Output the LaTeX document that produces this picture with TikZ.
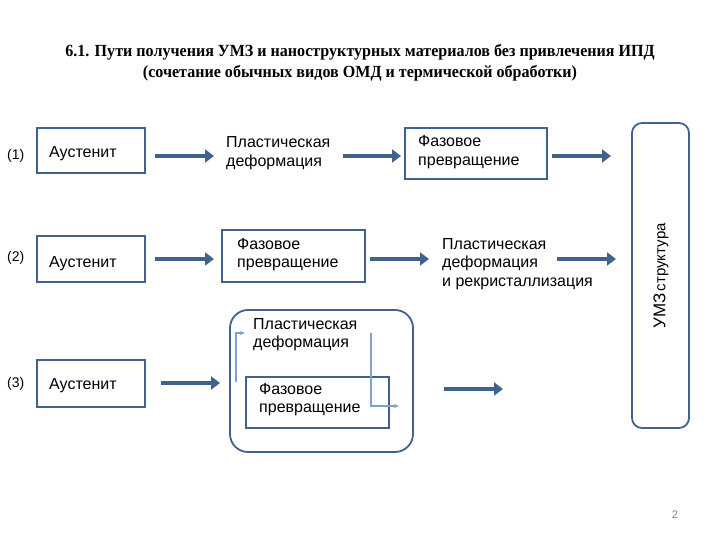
\documentclass[tikz,border=0pt]{standalone}
\usepackage{fontspec}
\setmainfont{Liberation Sans}
\newfontfamily\titlefont[FakeStretch=0.945]{Liberation Serif}
\usetikzlibrary{arrows.meta}
\definecolor{boxc}{RGB}{65,98,142}
\definecolor{thinc}{RGB}{130,162,200}
\definecolor{pgc}{RGB}{130,130,130}
\begin{document}
\begin{tikzpicture}[x=1pt,y=-1pt,
  every node/.style={inner sep=0pt},
  txt/.style={font=\fontsize{16}{18.5}\selectfont, align=left, anchor=base west},
  num/.style={font=\fontsize{14}{17}\selectfont, anchor=base west},
  boxr/.style={draw=boxc, line width=1.8pt},
  fat/.style={draw=boxc, line width=4.5pt, -{Triangle[length=9pt,width=13pt]}},
  thinarr/.style={draw=thinc, line width=1.1pt, -{Stealth[length=5pt,width=4pt]}}]
\useasboundingbox (0,0) rectangle (720,540);

% title (base anchor = baseline of the last line)
\node[font=\titlefont\bfseries\fontsize{17}{21}\selectfont, align=center, anchor=base] (title) at (360,78)
  {6.1. Пути получения УМЗ и наноструктурных материалов без привлечения ИПД\\(сочетание обычных видов ОМД и термической обработки)};

% row labels
\node[num] (n1) at (7,160) {(1)};
\node[num] (n2) at (7,261) {(2)};
\node[num] (n3) at (7,387) {(3)};

% boxes
\draw[boxr] (37,128) rectangle (145,173);
\draw[boxr] (37,236) rectangle (145,282);
\draw[boxr] (37,360) rectangle (145,407);
\draw[boxr] (405,128) rectangle (547,179);
\draw[boxr] (222,230) rectangle (365,282);
\draw[boxr, rounded corners=18pt] (230,310) rectangle (413,452);
\draw[boxr] (246,377) rectangle (389,428);
\draw[boxr, rounded corners=10pt] (632,123) rectangle (689,428);

% texts (anchor at baseline of last line)
\node[txt] (a1) at (49,158) {Аустенит};
\node[txt] (a2) at (49,267) {Аустенит};
\node[txt] (a3) at (49,389) {Аустенит};
\node[txt] (p1) at (226,166.5) {Пластическая\\деформация};
\node[txt] (f1) at (418,165.5) {Фазовое\\превращение};
\node[txt] (f2) at (237,267.5) {Фазовое\\превращение};
\node[txt] (p2) at (442,286) {Пластическая\\деформация\\и рекристаллизация};
\node[txt] (p3) at (253,347.5) {Пластическая\\деформация};
\node[txt] (f3) at (259,412.5) {Фазовое\\превращение};
\node[rotate=90] (u) at (661,276) {{\fontsize{17}{20}\selectfont УМЗ}{\fontsize{15}{18}\selectfont\,структура}};
\node[font=\fontsize{11}{13}\selectfont, text=pgc] (pg) at (675,515) {2};

% fat arrows
\coordinate (r1a) at (155,156); \coordinate (r1b) at (214,156);
\coordinate (r1c) at (343,156); \coordinate (r1d) at (401,156);
\coordinate (r1e) at (552,156); \coordinate (r1f) at (611,156);
\coordinate (r2a) at (155,259); \coordinate (r2b) at (214,259);
\coordinate (r2c) at (370,259); \coordinate (r2d) at (429,259);
\coordinate (r2e) at (557,259); \coordinate (r2f) at (616,259);
\coordinate (r3a) at (161,383); \coordinate (r3b) at (220,383);
\coordinate (r3c) at (444,389); \coordinate (r3d) at (503,389);
\draw[fat] (r1a) -- (r1b);
\draw[fat] (r1c) -- (r1d);
\draw[fat] (r1e) -- (r1f);
\draw[fat] (r2a) -- (r2b);
\draw[fat] (r2c) -- (r2d);
\draw[fat] (r2e) -- (r2f);
\draw[fat] (r3a) -- (r3b);
\draw[fat] (r3c) -- (r3d);

% thin arrows inside block 3
\coordinate (t1a) at (236,382); \coordinate (t1b) at (245,333);
\coordinate (t2a) at (371,333); \coordinate (t2b) at (399,406);
\draw[thinarr] (t1a) |- (t1b);
\draw[thinarr] (t2a) |- (t2b);
\end{tikzpicture}
\end{document}
